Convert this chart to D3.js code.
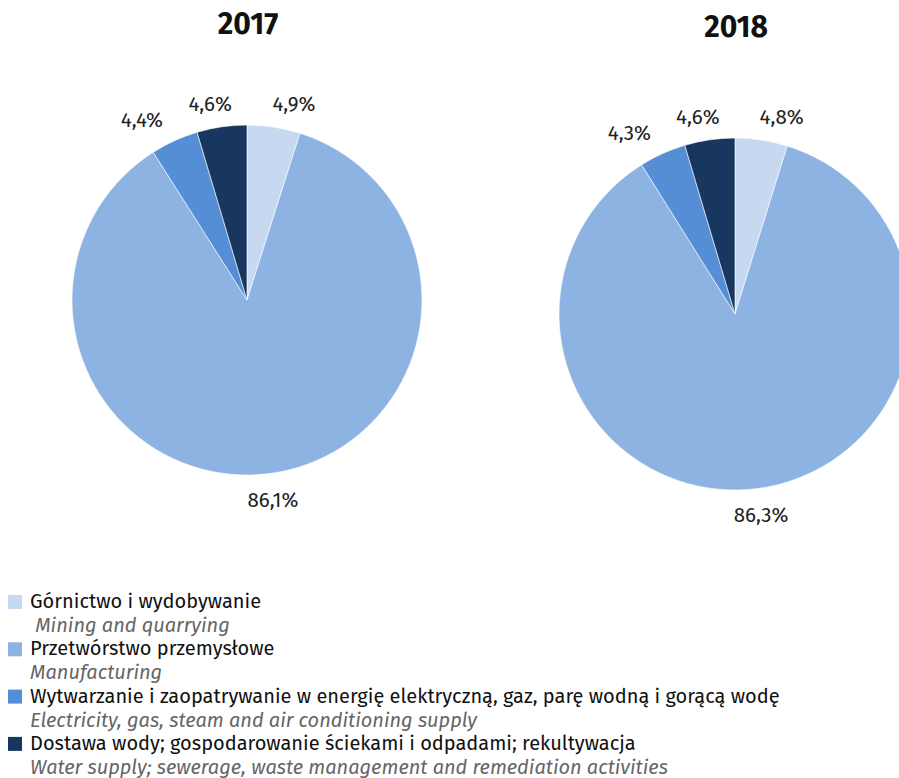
<!DOCTYPE html>
<html><head><meta charset="utf-8">
<script src="https://cdn.jsdelivr.net/npm/d3@7/dist/d3.min.js"></script>
<style>
body{margin:0;background:#fff;}
svg{display:block;font-family:"Fira Sans","Noto Sans","Open Sans",sans-serif;}
</style></head><body>
<svg id="c" width="899" height="778"></svg>
<script>
const years = ["2017", "2018"];
const categoriesPL = ["Górnictwo i wydobywanie", "Przetwórstwo przemysłowe", "Wytwarzanie i zaopatrywanie w energię elektryczną, gaz, parę wodną i gorącą wodę", "Dostawa wody; gospodarowanie ściekami i odpadami; rekultywacja"];
const categoriesEN = [" Mining and quarrying", "Manufacturing", "Electricity, gas, steam and air conditioning supply", "Water supply; sewerage, waste management and remediation activities"];
const values2017 = [4.9, 86.1, 4.4, 4.6];
const values2018 = [4.8, 86.3, 4.3, 4.6];
const colors = ["#c6d9f1", "#8db3e2", "#558ed5", "#17375e"];

const svg = d3.select("#c");
const series = [values2017, values2018];
const layout = [{cx:247, cy:300, r:175, ty:24}, {cx:735, cy:314, r:176, ty:27}];
const fmt = v => d3.format(".1f")(v).replace(".", ",") + "%";

const pie = d3.pie().sort(null).value(d => d);
series.forEach((vals, i) => {
  const L = layout[i];
  const g = svg.append("g").attr("transform", `translate(${L.cx},${L.cy})`);
  const arcs = pie(vals);
  const arc = d3.arc().innerRadius(0).outerRadius(L.r);
  g.selectAll("path").data(arcs).join("path")
    .attr("d", arc).attr("fill", (d, j) => colors[j])
    .attr("stroke", "#fff").attr("stroke-width", 0.6);
  svg.append("text").attr("x", L.cx + 1).attr("y", L.ty).attr("text-anchor", "middle")
    .attr("dominant-baseline", "central").attr("font-weight", "bold").attr("font-size", 30)
    .attr("fill", "#111").text(years[i]);
  // labels: outside end, then pushed apart horizontally
  const R = L.r + 23;
  const labs = arcs.map(d => {
    let a = (d.startAngle + d.endAngle) / 2;
    const sa = a > Math.PI ? a - 2 * Math.PI : a;
    return {a: Math.abs(sa), x: Math.sin(a) * R + Math.sin(a) * 4, y: -Math.cos(a) * R + (Math.cos(a) < 0 ? 4 : 0), v: d.data};
  });
  for (let it = 0; it < 80; it++) {
    for (let p = 0; p < labs.length; p++) for (let q = p + 1; q < labs.length; q++) {
      const A = labs[p], B = labs[q];
      const dy = Math.abs(B.y - A.y);
      if (dy >= 30) continue;
      const need = 84 - dy;
      const dx = B.x - A.x;
      if (Math.abs(dx) < need) {
        const s = (need - Math.abs(dx)) * Math.sign(dx || 1) * 0.5;
        const wA = A.a / (A.a + B.a), wB = B.a / (A.a + B.a);
        A.x -= s * wA; B.x += s * wB;
      }
    }
  }
  g.selectAll("text.lab").data(labs).join("text").attr("class", "lab")
    .attr("x", d => d.x).attr("y", d => d.y)
    .attr("text-anchor", "middle").attr("dominant-baseline", "central")
    .attr("font-size", 20.5).attr("fill", "#222").text(d => fmt(d.v));
});

// legend
const lg = svg.append("g").attr("transform", "translate(8,595)");
categoriesPL.forEach((c, i) => {
  const y = i * 47.3;
  lg.append("rect").attr("x", 0).attr("y", y).attr("width", 14).attr("height", 14).attr("fill", colors[i]);
  lg.append("text").attr("x", 22).attr("y", y + 13)
    .attr("font-size", 20).attr("fill", "#111").text(c);
  lg.append("text").attr("x", 22).attr("y", y + 37)
    .attr("font-size", 20).attr("font-style", "italic").attr("fill", "#666")
    .attr("xml:space", "preserve").style("white-space", "pre").text(categoriesEN[i]);
});
</script></body></html>
